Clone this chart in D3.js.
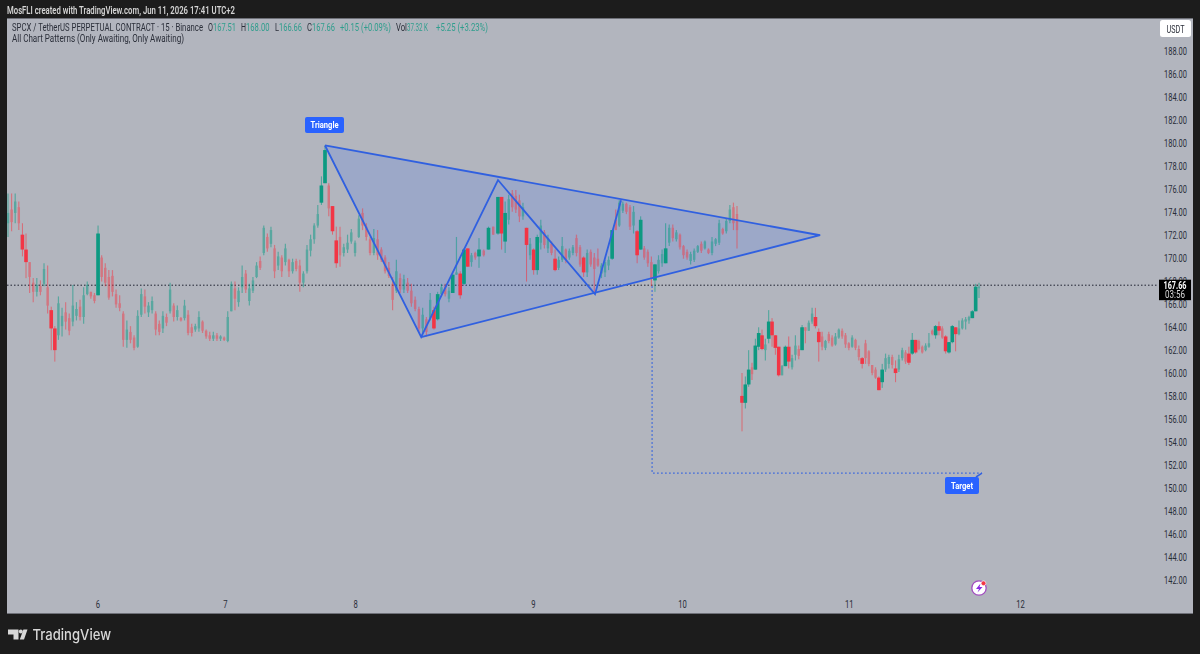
<!DOCTYPE html>
<html><head><meta charset="utf-8">
<script src="https://cdnjs.cloudflare.com/ajax/libs/d3/7.8.5/d3.min.js"></script>
<style>html,body{margin:0;padding:0;background:#1c1c1c}svg{display:block}text{font-family:Roboto,"Open Sans",sans-serif}</style>
</head><body><svg id="c" width="1200" height="654"></svg>
<script>
const highs=[175.8,175.8,175.8,175.1,173.2,172.3,169.8,168.4,168.4,168.2,
169.7,169.5,165.9,164.2,166.8,165.8,166.3,165.3,167.8,166.3,
166.5,167.6,168.1,167.2,167.1,173.0,170.4,169.7,169.1,169.1,
167.4,166.9,165.5,164.7,164.2,163.4,165.6,167.5,167.4,166.3,
166.8,165.5,164.7,165.5,165.3,168.0,166.2,166.0,165.0,166.5,
165.6,164.4,164.4,165.5,164.7,163.9,163.7,163.7,163.6,163.4,
163.3,165.5,168.1,168.1,167.6,169.5,169.1,167.9,168.5,169.8,
170.3,173.0,172.3,172.9,171.3,170.7,170.4,171.4,170.1,170.1,
170.1,170.0,169.0,171.3,172.2,173.2,174.8,177.3,180.0,176.7,
174.7,172.9,172.9,171.4,172.2,172.7,171.7,173.9,174.5,173.2,
172.0,172.7,172.6,171.1,170.4,169.8,168.5,170.0,168.8,168.7,
168.4,167.9,166.8,165.9,165.8,165.0,167.1,165.9,167.2,167.9,
167.9,167.6,168.8,172.0,169.0,171.0,171.0,170.6,170.7,171.9,
170.9,172.9,172.9,175.5,175.5,175.1,175.7,176.1,176.1,175.7,
175.0,172.8,171.9,171.0,172.2,173.5,172.6,172.2,171.6,170.9,
170.3,172.0,171.0,171.0,171.3,172.2,171.3,170.3,170.9,170.9,
170.6,171.0,169.7,170.0,170.3,172.6,174.4,175.2,175.1,175.0,
174.8,174.7,172.6,173.8,171.2,170.9,170.3,169.6,170.4,170.9,
173.2,173.1,173.1,172.6,172.3,171.3,170.9,170.7,171.0,171.3,
171.6,171.7,171.0,172.0,171.9,173.5,172.8,173.6,174.8,175.0,
174.7,160.1,159.8,162.1,161.0,163.1,164.1,163.9,163.1,165.6,
164.9,163.4,162.4,160.8,162.5,163.3,161.7,163.4,162.5,164.3,
164.1,164.7,165.8,165.8,164.0,163.7,163.0,163.7,163.4,163.6,
164.0,164.0,163.6,162.8,163.4,163.1,162.5,161.5,163.0,162.1,
160.8,160.6,159.8,160.9,161.8,161.7,161.7,161.2,161.7,162.3,
162.1,162.4,163.6,163.0,163.0,162.5,162.7,163.6,163.9,164.3,
164.6,164.2,163.4,162.8,164.3,164.1,164.7,164.9,165.0,165.1,
165.6,167.9,168.0];
const lows=[172.0,172.5,173.2,172.6,170.3,168.4,167.1,166.3,166.8,166.9,
167.7,165.3,162.1,161.1,163.0,163.3,163.9,163.4,164.2,164.7,
164.7,164.4,166.9,166.6,166.2,166.9,168.1,167.7,166.5,166.8,
165.8,165.5,162.4,162.3,162.7,162.1,162.3,165.0,165.3,165.0,
165.3,163.4,163.4,163.6,164.2,165.3,164.6,164.7,164.6,164.7,
163.4,163.3,163.7,163.7,163.6,163.1,162.9,162.9,162.9,162.9,
162.9,162.8,165.5,165.6,165.9,167.1,167.1,166.0,167.1,168.4,
169.1,170.4,170.7,171.1,168.4,169.1,168.5,169.5,168.5,168.8,
169.0,167.2,167.6,168.8,170.3,171.4,172.8,174.8,176.7,173.8,
172.2,169.3,169.4,170.3,170.6,171.4,170.3,171.9,172.6,171.7,
170.4,170.4,170.0,169.8,168.8,168.4,165.6,167.1,167.1,167.1,
167.1,165.9,165.5,163.6,163.6,163.3,164.7,163.9,164.7,166.8,
166.8,166.3,167.1,168.7,166.6,167.8,169.4,169.4,170.0,169.3,
170.3,170.9,172.2,172.2,170.9,170.6,173.1,174.2,174.1,173.3,
173.5,168.1,170.0,168.7,168.7,170.9,171.0,170.6,170.4,169.0,
169.1,169.8,169.7,170.0,170.4,170.3,169.4,168.5,168.5,169.4,
167.1,169.4,168.4,168.5,169.1,170.0,172.6,172.9,174.1,174.0,
172.6,172.3,169.7,170.9,170.0,169.4,167.7,167.2,168.8,169.4,
169.7,171.2,171.6,171.6,170.9,170.1,170.0,169.6,169.8,170.6,
170.6,170.9,170.5,170.4,171.2,171.3,172.2,172.3,173.2,172.6,
171.0,155.0,157.0,158.9,159.5,160.4,162.1,162.1,161.2,162.7,
162.4,161.7,159.8,159.9,160.7,160.5,160.4,161.2,161.3,162.1,
162.7,163.8,164.4,164.0,161.1,162.1,162.1,162.7,162.4,162.5,
163.1,163.1,162.3,162.1,162.3,162.1,161.2,160.5,160.9,160.7,
159.9,159.6,158.6,158.8,160.2,160.5,160.5,159.3,160.2,161.2,
160.9,160.8,161.7,161.8,162.1,161.8,162.0,162.3,163.4,163.1,
163.4,163.1,161.8,161.8,162.7,162.0,163.4,163.9,163.9,164.4,
164.9,165.5,166.66];
const opens=[173.2,174.4,174.1,174.6,172.2,170.9,169.8,168.0,167.2,167.7,
167.9,167.6,165.6,164.0,163.4,164.2,165.4,164.9,164.6,165.1,
165.9,165.0,167.0,167.2,166.9,166.9,170.2,169.3,168.5,168.6,
167.0,166.2,165.3,163.0,163.7,163.2,162.4,165.2,166.8,165.4,
165.6,165.3,164.4,164.0,165.0,165.5,166.0,165.0,164.9,164.9,
165.2,164.1,163.9,164.0,164.6,163.8,163.4,163.1,163.4,163.1,
163.2,162.9,165.5,167.5,166.3,167.6,168.8,166.4,167.3,168.5,
169.9,170.6,172.0,171.4,171.0,169.5,170.2,169.8,170.0,169.0,
169.9,169.5,168.0,169.0,170.8,171.8,173.0,175.0,176.7,176.5,
174.7,171.7,172.0,170.6,170.9,171.6,170.6,172.0,174.1,172.9,
171.8,170.6,171.8,170.9,170.2,169.3,167.9,167.3,168.4,167.4,
168.0,167.3,166.5,165.7,164.0,164.8,164.9,165.6,164.8,167.0,
167.7,166.6,167.1,168.7,168.8,167.9,171.0,169.8,170.6,170.3,
170.8,170.9,172.9,172.3,175.5,171.6,173.5,175.8,175.6,175.2,
173.8,172.8,170.4,170.9,169.1,171.5,172.4,171.0,171.4,170.1,
169.3,170.0,170.9,170.2,170.6,171.9,171.1,170.2,168.9,170.7,
170.2,170.1,168.8,168.9,169.5,170.1,173.5,173.0,174.3,174.9,
174.6,173.0,172.5,170.9,171.0,170.7,169.8,168.2,169.0,169.7,
169.7,171.5,172.8,171.8,172.2,171.2,170.7,169.9,170.0,170.7,
171.4,171.0,170.9,170.6,171.4,171.5,172.7,172.5,173.4,174.6,
174.0,158.1,157.5,159.1,160.6,160.4,162.4,163.4,162.1,163.1,
164.6,163.4,162.4,159.9,160.7,162.4,160.6,161.7,162.2,162.1,
164.1,163.8,164.6,165.0,163.7,163.3,162.3,163.5,163.2,162.6,
163.2,163.8,163.4,162.7,162.4,163.0,162.2,161.4,162.7,162.0,
160.8,160.4,159.7,159.3,160.4,160.9,161.5,160.5,160.4,161.4,
161.9,161.8,161.8,163.0,162.9,162.4,162.1,162.4,163.8,163.4,
164.2,164.0,163.3,161.9,162.8,164.1,163.5,164.0,164.6,164.7,
164.9,165.5,167.51];
const closes=[174.1,173.3,175.1,173.2,170.9,169.8,168.5,167.2,167.8,167.2,
169.2,166.0,164.0,162.1,166.2,165.1,164.6,163.8,166.0,165.7,
165.0,166.9,167.8,166.8,166.4,172.3,168.5,168.0,166.7,167.2,
166.1,165.8,163.0,163.9,163.0,162.3,165.1,167.0,165.9,166.0,
166.4,163.9,163.7,165.1,164.5,167.4,165.0,165.6,164.7,166.0,
163.6,163.6,164.2,165.0,163.8,163.3,163.1,163.4,163.1,163.3,
163.0,165.0,167.9,166.6,167.3,168.5,167.4,167.5,168.2,169.5,
169.3,172.8,171.0,172.6,169.0,170.3,169.0,171.0,169.0,169.8,
169.2,168.0,168.8,170.9,171.8,173.0,174.0,176.5,179.6,174.5,
172.5,169.7,170.4,171.1,171.5,172.4,171.5,173.6,173.0,172.0,
170.6,171.9,170.4,170.0,169.0,168.6,166.5,169.0,167.4,168.3,
167.3,166.2,165.7,164.0,165.2,163.7,166.5,164.0,167.0,167.6,
167.0,167.3,168.7,168.9,166.9,170.9,169.4,170.4,170.2,170.9,
170.4,172.8,172.2,175.5,172.3,174.1,175.3,174.6,174.4,173.8,
174.6,171.3,171.4,169.1,172.0,173.0,171.3,171.9,170.6,169.1,
170.0,171.2,170.0,170.8,171.1,170.6,169.6,168.9,170.6,169.6,
169.2,169.5,169.5,169.8,170.0,172.6,172.6,175.0,174.9,174.2,
172.9,174.2,170.4,173.5,170.2,169.7,168.4,169.6,170.0,170.5,
171.0,172.8,171.9,172.4,171.1,170.4,170.2,170.5,170.8,171.2,
170.8,171.6,170.6,171.6,171.8,173.2,172.3,173.4,174.4,173.2,
172.6,157.5,159.1,160.4,160.0,162.5,163.6,162.2,162.6,164.6,
163.4,162.3,159.9,160.7,162.4,161.1,161.4,162.5,161.6,164.1,
163.8,164.5,165.3,164.2,162.8,162.4,162.9,162.9,162.5,163.3,
163.9,163.3,162.6,162.3,163.2,162.3,161.5,160.9,161.4,160.9,
160.1,159.7,158.6,160.4,161.4,161.5,160.8,160.1,161.3,162.1,
161.1,161.0,163.0,161.9,162.2,161.9,162.5,162.7,163.5,164.2,
163.8,163.2,162.0,162.8,164.2,163.5,164.0,164.7,164.8,165.0,
165.5,167.65,167.66];
const heavyBars=[4,5,12,13,25,87,88,90,91,117,118,122,124,125,126,129,131,133,134,135,141,143,144,149,157,165,172,173,177,180,201,202,203,205,206,207,209,210,211,212,214,215,219,223,224,237,242,243,247,251,252,253,259,260,262,263,264,265,270,271];
const priceTicks=[188,186,184,182,180,178,176,174,172,170,168,166,164,162,160,158,156,154,152,150,148,146,144,142];
const dayBars=[24.8,60.2,96,142.8,184.6,233,284.3];
const dayLabels=["6","7","8","9","10","11","12"];
const zigBars=[88,113.6,133,160.2,167.5];
const zigPrices=[180.0,163.25,176.98,167.0,175.2];
const apexBar=224.4, apexPrice=172.15;
const targetBars=[176.2,176.2,272.9];
const targetPrices=[167.7,151.35,151.35];
const lastPrice=167.66, countdown="03:56";
const n=closes.length;

const svg=d3.select("#c");
const panel={l:7,t:18,r:1193,b:614};
const x=d3.scaleLinear().domain([0,88,129,133,200,201,272]).range([8,325,479,498,737,742,979]);
const y=d3.scaleLinear().domain([188,142]).range([54,580]);      // marks
const yAxisScale=d3.scaleLinear().domain([188,142]).range([51.5,580]); // price labels and last-price line

svg.append("rect").attr("x",panel.l).attr("y",panel.t).attr("width",panel.r-panel.l).attr("height",panel.b-panel.t).attr("fill","#b2b5be");
svg.append("line").attr("x1",panel.l).attr("x2",panel.r).attr("y1",panel.t+.5).attr("y2",panel.t+.5).attr("stroke","#6e7078");
svg.append("line").attr("x1",panel.l).attr("x2",panel.r).attr("y1",panel.b-.5).attr("y2",panel.b-.5).attr("stroke","#6e7078");
const defs=svg.append("defs");
defs.append("filter").attr("id","soft").append("feGaussianBlur").attr("stdDeviation",0.5);
defs.append("clipPath").attr("id","pc").append("rect").attr("x",panel.l).attr("y",panel.t).attr("width",panel.r-panel.l).attr("height",panel.b-panel.t);

const yLast=yAxisScale(lastPrice);
svg.append("line").attr("x1",panel.l).attr("x2",1158).attr("y1",yLast).attr("y2",yLast).attr("stroke","#1f2230").attr("stroke-width",1).attr("stroke-dasharray","1.5 2");

const triangle=[[zigBars[0],zigPrices[0]],[zigBars[1],zigPrices[1]],[apexBar,apexPrice]];
const lineGen=d3.line().x(d=>x(d[0])).y(d=>y(d[1]));
svg.append("path").attr("d",lineGen(triangle)+"Z").attr("fill","#2962ff").attr("fill-opacity",0.16);

const heavy=new Set(heavyBars);
const bars=d3.range(n);
const g=svg.append("g").attr("filter","url(#soft)").attr("clip-path","url(#pc)");
const col=i=>closes[i]>=opens[i]?"#089981":"#f23645";
const sel=g.selectAll("g.bar").data(bars).join("g").attr("opacity",i=>heavy.has(i)?1:0.5);
sel.append("line").attr("x1",i=>x(i)).attr("x2",i=>x(i)).attr("y1",i=>y(highs[i])).attr("y2",i=>y(lows[i])).attr("stroke",col).attr("stroke-width",i=>heavy.has(i)?1:1.2).attr("stroke-opacity",i=>heavy.has(i)?.6:1);
sel.append("rect").attr("x",i=>x(i)-(heavy.has(i)?1.8:1.2)).attr("width",i=>heavy.has(i)?3.6:2.4)
 .attr("y",i=>y(Math.max(opens[i],closes[i]))).attr("height",i=>Math.max(1,Math.abs(y(opens[i])-y(closes[i])))).attr("fill",col);

const blue="#3060e0";
svg.append("path").attr("d",lineGen(zigBars.map((b,i)=>[b,zigPrices[i]]))).attr("fill","none").attr("stroke",blue).attr("stroke-width",1.8);
svg.append("path").attr("d",lineGen([[zigBars[0],zigPrices[0]],[apexBar,apexPrice],[zigBars[1],zigPrices[1]]])).attr("fill","none").attr("stroke",blue).attr("stroke-width",1.8);
svg.append("path").attr("d",lineGen(targetBars.map((b,i)=>[b,targetPrices[i]]))).attr("fill","none").attr("stroke",blue).attr("stroke-width",1.3).attr("stroke-dasharray","1.5 2.5");

function fit(sel,w){return sel.attr("textLength",w).attr("lengthAdjust","spacingAndGlyphs");}
function tag(px,py,w,h,label,tw){
 svg.append("rect").attr("x",px).attr("y",py).attr("width",w).attr("height",h).attr("rx",2).attr("fill","#2962ff");
 fit(svg.append("text").attr("x",px+w/2).attr("y",py+h/2+3).attr("text-anchor","middle").attr("font-size",9.5).attr("font-weight",700).attr("fill","#fff").text(label),tw);
}
tag(305,117,39,16,"Triangle",28);
svg.append("path").attr("d",`M976 477 L${x(targetBars[2])} ${y(targetPrices[2])} `).attr("stroke",blue).attr("stroke-width",1.5);
tag(945,477,34,17,"Target",22);

const yAxis=d3.axisRight(yAxisScale).tickValues(priceTicks).tickSize(0).tickPadding(0).tickFormat(d3.format(".2f"));
const ya=svg.append("g").attr("transform","translate(1164,0)").call(yAxis);
ya.select(".domain").remove();
ya.selectAll("text").attr("font-size",10).attr("fill","#2a2e39").style("font-family","Roboto,sans-serif").attr("textLength",23).attr("lengthAdjust","spacingAndGlyphs");
const xAxis=d3.axisBottom(x).tickValues(dayBars).tickSize(0).tickPadding(0).tickFormat((d,i)=>dayLabels[i]);
const xa=svg.append("g").attr("transform","translate(0,601)").call(xAxis);
xa.select(".domain").remove();
xa.selectAll("text").attr("font-size",10).attr("fill","#2a2e39").style("font-family","Roboto,sans-serif").attr("textLength",(d,i)=>dayLabels[i].length*4.3).attr("lengthAdjust","spacingAndGlyphs");

svg.append("rect").attr("x",1159).attr("y",yLast-5.5).attr("width",32).attr("height",20.5).attr("fill","#000");
fit(svg.append("text").attr("x",1175).attr("y",yLast+3.7).attr("text-anchor","middle").attr("font-size",10).attr("font-weight",700).attr("fill","#fff").text(d3.format(".2f")(lastPrice)),23);
fit(svg.append("text").attr("x",1175).attr("y",yLast+13.2).attr("text-anchor","middle").attr("font-size",10).attr("fill","#d8d8d8").text(countdown),20);

svg.append("rect").attr("x",1160).attr("y",20).attr("width",31).attr("height",17).attr("rx",2.5).attr("fill","#fff");
fit(svg.append("text").attr("x",1175.5).attr("y",32.5).attr("text-anchor","middle").attr("font-size",10).attr("fill","#2a2e39").text("USDT"),18);

fit(svg.append("text").attr("x",7).attr("y",13.5).attr("font-size",10).attr("font-weight",600).attr("fill","#d4d4d4").text("MosFLI created with TradingView.com, Jun 11, 2026 17:41 UTC+2"),228);
const gr="#2f9e8d", dk="#2a2e39";
const legend=[[12,191,"SPCX / TetherUS PERPETUAL CONTRACT · 15 · Binance",dk],[208,5,"O",dk],[213,23,"167.51",gr],[241,5,"H",dk],[246,23.5,"168.00",gr],[275,4,"L",dk],[279,23,"166.66",gr],[307,5,"C",dk],[312,23,"167.66",gr],[340,51,"+0.15 (+0.09%)",gr],[396,11,"Vol",dk],[407,21,"37.32 K",gr],[436,52,"+5.25 (+3.23%)",gr]];
svg.append("g").selectAll("text").data(legend).join("text").attr("x",d=>d[0]).attr("y",30.8).attr("font-size",10).attr("fill",d=>d[3]).attr("textLength",d=>d[1]).attr("lengthAdjust","spacingAndGlyphs").text(d=>d[2]);
fit(svg.append("text").attr("x",12).attr("y",42).attr("font-size",10).attr("fill",dk).text("All Chart Patterns (Only Awaiting, Only Awaiting)"),172);

svg.append("circle").attr("cx",979).attr("cy",588).attr("r",7.2).attr("fill","#fff").attr("stroke","#a24bc0").attr("stroke-width",1.3);
svg.append("path").attr("d","M980.5 583.5 L976 589 H979 L977.5 592.5 L982.5 587 H979.5 Z").attr("fill","#8a2be2");
svg.append("circle").attr("cx",983.5).attr("cy",583.3).attr("r",2.4).attr("fill","#f23645").attr("stroke","#fff").attr("stroke-width",.6);

svg.append("path").attr("d","M8 629.5 H18.5 V639.5 H13.5 V634.5 H8 Z M27.5 629.5 L24 639.5 H19.8 L23.4 629.5 Z").attr("fill","#d8d8d8");
svg.append("circle").attr("cx",20.8).attr("cy",631.6).attr("r",2).attr("fill","#d8d8d8");
fit(svg.append("text").attr("x",32.5).attr("y",639.5).attr("font-size",15).attr("font-weight",500).style("font-family","Inter,sans-serif").attr("fill","#d8d8d8").text("TradingView"),78.5);
</script></body></html>
